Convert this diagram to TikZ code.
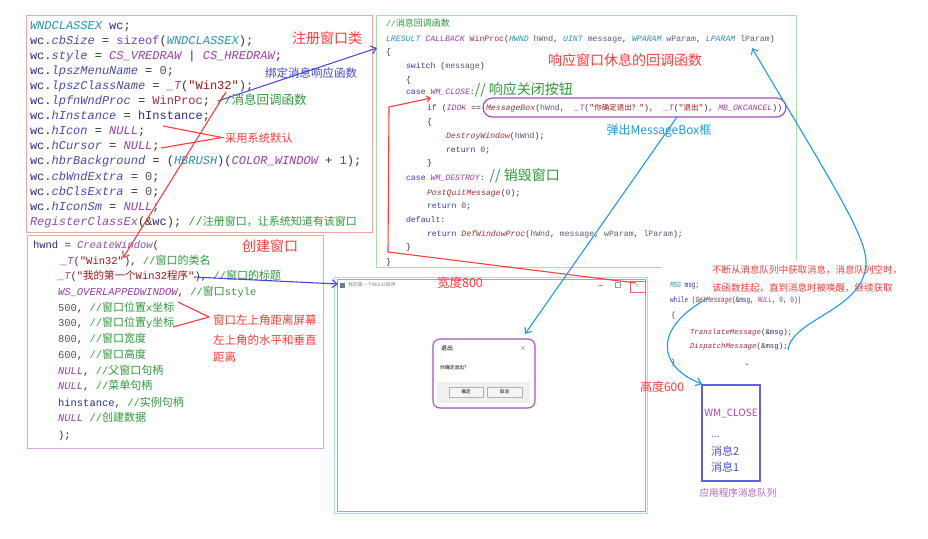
\documentclass[tikz,border=0pt]{standalone}
\usepackage{fontspec}
\setmonofont{Liberation Mono}
\newfontfamily\cjk{Noto Sans CJK SC}
\newfontfamily\narrowmono[FakeStretch=0.76]{Liberation Mono}
\usetikzlibrary{arrows.meta}
\definecolor{ctype}{HTML}{2B91AF}
\definecolor{cvar}{HTML}{2E2E8A}
\definecolor{cmem}{HTML}{4A4AB0}
\definecolor{cmac}{HTML}{9A3FA8}
\definecolor{cfun}{HTML}{A0303C}
\definecolor{cfn2}{HTML}{8A4FB0}
\definecolor{ckw}{HTML}{3A3AC0}
\definecolor{ckw2}{HTML}{7A3FC8}
\definecolor{cstr}{HTML}{A31515}
\definecolor{cnum}{HTML}{555555}
\definecolor{cpar}{HTML}{5A5A7A}
\definecolor{ccom}{HTML}{2E9A3A}
\definecolor{cpunc}{HTML}{333333}
\definecolor{ared}{HTML}{FF3B3B}
\definecolor{ablue}{HTML}{4646D8}
\definecolor{lblue}{HTML}{1E9BE6}
\definecolor{bpink}{HTML}{F4A6A6}
\definecolor{bgreen}{HTML}{A8DFA8}
\definecolor{bpurp}{HTML}{D9AADB}
\definecolor{mpurp}{HTML}{A64FC0}
\definecolor{qblue}{HTML}{6262E0}
\definecolor{qtext}{HTML}{5050C8}
\definecolor{qpurp}{HTML}{A845B8}
\definecolor{wcyan}{HTML}{A8DCF0}
\newcommand\cT[1]{\textcolor{ctype}{\itshape #1}}
\newcommand\cV[1]{\textcolor{cvar}{#1}}
\newcommand\cM[1]{\textcolor{cmem}{\itshape #1}}
\newcommand\cD[1]{\textcolor{cmac}{\itshape #1}}
\newcommand\cF[1]{\textcolor{cfun}{\itshape #1}}
\newcommand\cW[1]{\textcolor{cfun}{#1}}
\newcommand\cG[1]{\textcolor{cfn2}{\itshape #1}}
\newcommand\cK[1]{\textcolor{ckw}{#1}}
\newcommand\cKK[1]{\textcolor{ckw2}{#1}}
\newcommand\cS[1]{\textcolor{cstr}{#1}}
\newcommand\cN[1]{\textcolor{cnum}{#1}}
\newcommand\cP[1]{\textcolor{cpar}{#1}}
\newcommand\cC[1]{\textcolor{ccom}{#1}}
\newcommand\zs[2]{{\cjk\fontsize{#1}{#1}\selectfont #2}}
\tikzset{
  cl/.style={anchor=base west, inner sep=0pt, outer sep=0pt, text=cpunc},
  tlc/.style={cl, font=\ttfamily\fontsize{12}{12}\selectfont},
  blc/.style={cl, font=\ttfamily\fontsize{10.5}{10.5}\selectfont},
  rbc/.style={cl, font=\ttfamily\fontsize{8.2}{8.2}\selectfont},
  mlc/.style={cl, font=\narrowmono\fontsize{8}{8}\selectfont},
  mlcb/.style={cl, font=\ttfamily\fontsize{7.4}{7.4}\selectfont},
  note/.style={inner sep=0pt, outer sep=0pt, font=\cjk\fontsize{#1}{#1}\selectfont, text=ared},
  redline/.style={draw=ared, line width=1.1pt},
  blueline/.style={draw=ablue, line width=1.1pt},
  lbline/.style={draw=lblue, line width=1.1pt},
  arr/.style={-{Straight Barb[length=5pt,width=8pt]}},
  sarr/.style={-{Straight Barb[length=3.5pt,width=6pt]}},
}
\begin{document}
\begin{tikzpicture}[x=1pt,y=-1pt]
\useasboundingbox (0,0) rectangle (928,538);
\fill[white] (0,0) rectangle (928,538);

% ---------- boxes ----------
\draw[bpink, line width=1pt] (26,15) rectangle (372,232);
\draw[bgreen, line width=1pt] (376,15) rectangle (796,267);
\draw[bpurp, line width=1pt] (27,235) rectangle (323,448);

% ---------- top-left code ----------
\node[tlc] (tl0) at (30,29) {\cT{WNDCLASSEX} \cV{wc};};
\node[tlc] (tl1) at (30,44.1) {\cV{wc}.\cM{cbSize} = \cKK{sizeof}(\cT{WNDCLASSEX});};
\node[tlc] (tl2) at (30,59.2) {\cV{wc}.\cM{style} = \cD{CS\_VREDRAW} | \cD{CS\_HREDRAW};};
\node[tlc] (tl3) at (30,74.3) {\cV{wc}.\cM{lpszMenuName} = \cN{0};};
\node[tlc] (tl4) at (30,89.4) {\cV{wc}.\cM{lpszClassName} = \cD{\_T}(\cS{"Win32"});};
\node[tlc] (tl5) at (30,104.5) {\cV{wc}.\cM{lpfnWndProc} = \cW{WinProc}; \cC{//\zs{12.5}{消息回调函数}}};
\node[tlc] (tl6) at (30,119.6) {\cV{wc}.\cM{hInstance} = \cV{hInstance};};
\node[tlc] (tl7) at (30,134.7) {\cV{wc}.\cM{hIcon} = \cD{NULL};};
\node[tlc] (tl8) at (30,149.8) {\cV{wc}.\cM{hCursor} = \cD{NULL};};
\node[tlc] (tl9) at (30,164.9) {\cV{wc}.\cM{hbrBackground} = (\cT{HBRUSH})(\cD{COLOR\_WINDOW} + \cN{1});};
\node[tlc] (tl10) at (30,180) {\cV{wc}.\cM{cbWndExtra} = \cN{0};};
\node[tlc] (tl11) at (30,195.1) {\cV{wc}.\cM{cbClsExtra} = \cN{0};};
\node[tlc] (tl12) at (30,210.2) {\cV{wc}.\cM{hIconSm} = \cD{NULL};};
\node[tlc] (tl13) at (30,225.3) {\cG{RegisterClassEx}(\&\cV{wc}); \cC{//\zs{11}{注册窗口，让系统知道有该窗口}}};

% ---------- bottom-left code ----------
\node[blc] (bl0) at (33,248.5) {\cV{hwnd} = \cG{CreateWindow}(};
\node[blc] (bl1) at (61,264.5) {\cD{\_T}(\cS{"Win32"}), \cC{//\zs{11}{窗口的类名}}};
\node[blc] (bl2) at (58,279.5) {\cD{\_T}(\cS{"\zs{10.5}{我的第一个}Win32\zs{10.5}{程序}"}), \cC{//\zs{11}{窗口的标题}}};
\node[blc] (bl3) at (58,295.5) {\cD{WS\_OVERLAPPEDWINDOW}, \cC{//\zs{11}{窗口}style}};
\node[blc] (bl4) at (58,311.5) {\cN{500}, \cC{//\zs{11}{窗口位置}x\zs{11}{坐标}}};
\node[blc] (bl5) at (58,326.5) {\cN{300}, \cC{//\zs{11}{窗口位置}y\zs{11}{坐标}}};
\node[blc] (bl6) at (58,342.5) {\cN{800}, \cC{//\zs{11}{窗口宽度}}};
\node[blc] (bl7) at (58,358.5) {\cN{600}, \cC{//\zs{11}{窗口高度}}};
\node[blc] (bl8) at (58,374.5) {\cD{NULL}, \cC{//\zs{11}{父窗口句柄}}};
\node[blc] (bl9) at (58,389.5) {\cD{NULL}, \cC{//\zs{11}{菜单句柄}}};
\node[blc] (bl10) at (58,406.5) {\cV{hinstance}, \cC{//\zs{11}{实例句柄}}};
\node[blc] (bl11) at (58,421.5) {\cD{NULL} \cC{//\zs{11}{创建数据}}};
\node[blc] (bl12) at (58,438.5) {);};

% ---------- right code ----------
\node[rbc] (rb0) at (386,26.1) {\cC{//\zs{9}{消息回调函数}}};
\node[rbc] (rb1) at (386,41.1) {\cT{LRESULT} \cD{CALLBACK} \cW{WinProc}(\cT{HWND} \cP{hWnd}, \cT{UINT} \cP{message}, \cT{WPARAM} \cP{wParam}, \cT{LPARAM} \cP{lParam})};
\node[rbc] (rb2) at (386,54.5) {\{};
\node[rbc] (rb3) at (406,68.8) {\cK{switch} (\cP{message})};
\node[rbc] (rb4) at (406,82.8) {\{};
\node[rbc] (rb5) at (406,94.5) {\cK{case} \cD{WM\_CLOSE}:\cC{\zs{14}{// 响应关闭按钮}}};
\node[rbc] (rb6) at (427,110.5) {\cK{if} (\cD{IDOK} == \cF{MessageBox}(\cP{hWnd},\ \ \cD{\_T}(\cS{"\zs{7.5}{你确定退出？}"}),\ \ \cD{\_T}(\cS{"\zs{7.5}{退出}"}), \cD{MB\_OKCANCEL}))};
\node[rbc] (rb7) at (427,124.5) {\{};
\node[rbc] (rb8) at (446,138.8) {\cF{DestroyWindow}(\cP{hWnd});};
\node[rbc] (rb9) at (446,152.8) {\cK{return} \cN{0};};
\node[rbc] (rb10) at (427,165.8) {\}};
\node[rbc] (rb11) at (406,180.8) {\cK{case} \cD{WM\_DESTROY}: \cC{\zs{14}{// 销毁窗口}}};
\node[rbc] (rb12) at (427,195.5) {\cF{PostQuitMessage}(\cN{0});};
\node[rbc] (rb13) at (427,208.8) {\cK{return} \cN{0};};
\node[rbc] (rb14) at (406,222.8) {\cK{default}:};
\node[rbc] (rb15) at (427,236.8) {\cK{return} \cF{DefWindowProc}(\cP{hWnd}, \cP{message}, \cP{wParam}, \cP{lParam});};
\node[rbc] (rb16) at (406,249.8) {\}};
\node[rbc] (rb17) at (386,264.5) {\}};
\draw[mpurp, line width=1.2pt, rounded corners=9.5pt] (483,98) rectangle (786,117);

% ---------- annotations ----------
\node[note=14] (n1) at (327,38) {注册窗口类};
\node[note=11.5, text=ablue] (n2) at (311,73) {绑定消息响应函数};
\node[note=11.3, anchor=west] (n3) at (225,138) {采用系统默认};
\node[note=14] (n4) at (270,246) {创建窗口};
\node[note=11.5, anchor=west] (n5a) at (213,320) {窗口左上角距离屏幕};
\node[note=11.5, anchor=west] (n5b) at (213,340) {左上角的水平和垂直};
\node[note=11.5, anchor=west] (n5c) at (213,357) {距离};
\node[note=14] (n6) at (625,60) {响应窗口休息的回调函数};
\node[note=12, text=lblue] (n9) at (659,131) {弹出MessageBox框};

% ---------- main window ----------
\draw[wcyan, line width=1pt] (334,277) rectangle (647,513);
\draw[gray!70, line width=0.8pt] (337,279.5) rectangle (645.5,511.5);
\fill[gray!80!teal] (339.5,282.5) rectangle (344.5,287.5);
\node[inner sep=0pt, anchor=west, text=gray, font=\cjk\fontsize{4.8}{4.8}\selectfont] (wtitle) at (348,285) {我的第一个Win32程序};
\draw[gray!80, line width=0.5pt] (598,285.5) -- (603,285.5);
\draw[gray!80, line width=0.5pt] (615,282.5) rectangle (620,287.5);
\node[inner sep=0pt, text=gray, font=\sffamily\fontsize{7}{7}\selectfont] (wclose) at (637.5,286) {$\times$};
\draw[ared!80, line width=0.8pt] (630,281.5) rectangle (645,292.5);
\node[note=12.5] (n10) at (460,283) {宽度800};
\node[note=12] (n11) at (662,387) {高度600};

% dialog
\fill[white] (433,339) rectangle (535,408);
\fill[gray!12] (437,382) rectangle (530,403);
\draw[gray!60, fill=gray!8, line width=0.5pt] (449,387) rectangle (483,397);
\draw[gray!60, fill=gray!8, line width=0.5pt] (487,387) rectangle (522,397);
\node[inner sep=0pt, font=\cjk\fontsize{4.5}{4.5}\selectfont] (bok) at (466,392) {确定};
\node[inner sep=0pt, font=\cjk\fontsize{4.5}{4.5}\selectfont] (bcan) at (504.5,392) {取消};
\node[inner sep=0pt, anchor=west, font=\cjk\fontsize{6}{6}\selectfont] (dtitle) at (441,348) {退出};
\node[inner sep=0pt, text=gray!80!black, font=\sffamily\fontsize{8}{8}\selectfont] (dx) at (523,348.5) {$\times$};
\node[inner sep=0pt, anchor=west, font=\cjk\fontsize{4.8}{4.8}\selectfont] (dmsg) at (440,368) {你确定退出？};
\draw[mpurp, line width=1.1pt, rounded corners=7pt] (433,339) rectangle (535,408);

% ---------- message loop ----------
\fill[white] (662,261) rectangle (906,297);
\node[note=9.5, anchor=west] (n12) at (712,270) {不断从消息队列中获取消息，消息队列空时，};
\node[note=9.5, anchor=west] (n13) at (712,288) {该函数挂起，直到消息时被唤醒，继续获取};
\node[mlc] (ml0) at (670,287) {\cT{MSG} \cV{msg};};
\node[mlc] (ml1) at (670,302) {\cK{while} (\cF{GetMessage}(\&\cV{msg}, \cD{NULL}, \cN{0}, \cN{0}))};
\node[mlcb] (ml2) at (671,317.5) {\{};
\node[mlcb] (ml3) at (690,334.5) {\cF{TranslateMessage}(\&\cV{msg});};
\node[mlcb] (ml4) at (690,348.5) {\cF{DispatchMessage}(\&\cV{msg});};
\node[mlcb] (ml5) at (671,364.5) {\}};
\fill[qtext] (747,364.5) circle (0.8);

% queue
\draw[qblue, line width=1.1pt] (702,385) rectangle (760,481);
\node[inner sep=0pt, text=qpurp, font=\cjk\fontsize{10}{10}\selectfont] (q0) at (731,413) {WM\_CLOSE};
\node[inner sep=0pt, anchor=west, text=qtext, font=\cjk\fontsize{10}{10}\selectfont] (q1) at (711,437) {...};
\node[inner sep=0pt, anchor=west, text=qtext, font=\cjk\fontsize{11}{11}\selectfont] (q2) at (711,451) {消息2};
\node[inner sep=0pt, anchor=west, text=qtext, font=\cjk\fontsize{11}{11}\selectfont] (q3) at (711,467) {消息1};
\node[inner sep=0pt, text=qpurp!85, font=\cjk\fontsize{9.6}{9.6}\selectfont] (qlab) at (738,493) {应用程序消息队列};

% ---------- connectors ----------
\coordinate (a1) at (218,101);
\coordinate (a2) at (377,48);
\draw[blueline, arr] (a1) -- (a2);

\coordinate (b1) at (163,126);
\coordinate (b2) at (161,148);
\coordinate (bj) at (222,137.5);
\draw[redline] (b1) -- (bj) -- (b2);

\coordinate (c1) at (226,92);
\coordinate (c2) at (123,258);
\draw[redline, arr] (c1) -- (c2);

\coordinate (d0) at (636,283);
\coordinate (d1) at (388,252);
\coordinate (d2) at (389,107);
\coordinate (d3) at (431,98);
\draw[redline, sarr] (d0) -- (d1) -- (d2) -- (d3);

\coordinate (e1) at (194,277);
\coordinate (e2) at (338,284);
\draw[blueline, arr] (e1) -- (e2);

\coordinate (f1) at (178,302);
\coordinate (f2) at (173,327);
\coordinate (fj) at (209,317);
\draw[redline] (f1) -- (fj) -- (f2);

\coordinate (g1) at (677,117);
\coordinate (g2) at (525,334);
\draw[lbline, arr] (g1) -- (g2);

\coordinate (h0) at (788,350);
\coordinate (h1) at (866,262);
\coordinate (h2) at (752,48);
\draw[lbline, arr] (h0) .. controls (792,318) and (866,310) .. (h1)
  .. controls (866,235) and (830,180) .. (h2);

\coordinate (i0) at (708,298);
\coordinate (i1) at (702,384);
\draw[lbline, arr] (i0) .. controls (650,330) and (660,368) .. (i1);
\end{tikzpicture}
\end{document}
